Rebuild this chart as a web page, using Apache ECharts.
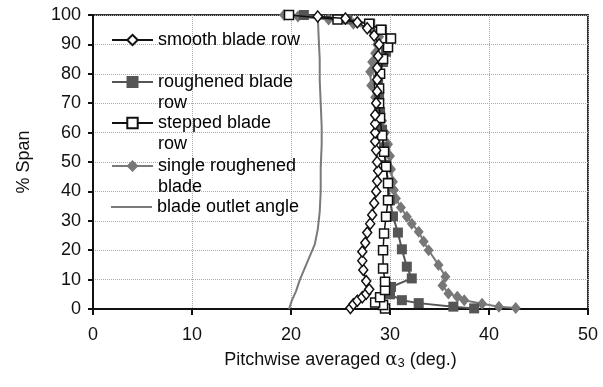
<!DOCTYPE html>
<html><head><meta charset="utf-8">
<script src="https://cdn.jsdelivr.net/npm/echarts@6/dist/echarts.min.js"></script>
<style>html,body{margin:0;padding:0;background:#fff}#c{width:603px;height:387px}</style>
</head><body><div id="c"></div>
<script>
const xTicks = [0, 10, 20, 30, 40, 50];
const yTicks = [0, 10, 20, 30, 40, 50, 60, 70, 80, 90, 100];

const smoothSpan  = [0.3,1.6,2.8,4.0,5.2,6.7,9.5,13.3,16.4,19.5,22.5,26,29,32,36,40,43.5,47,50,54,57,60,63,66,70,74,78,82,86,90,93,95.5,97.5,98.8,99.5];
const smoothAngle = [26.0,26.3,26.7,27.2,27.6,27.9,27.6,27.3,27.2,27.2,27.5,27.7,28.0,28.2,28.4,28.6,28.7,28.8,28.7,28.6,28.5,28.5,28.5,28.5,28.6,28.7,28.7,28.7,28.8,28.9,28.4,27.7,26.7,25.5,22.7];

const roughSpan  = [0.2,0.8,2.0,3.0,5.0,7.5,10.4,14.4,20.3,26,31.5,37,43,49,55,61,67,73,78,84,87.5,92,95,97,98.5,100];
const roughAngle = [38.5,36.4,32.9,31.2,30.0,30.1,32.2,31.7,31.2,30.8,30.3,30.0,29.8,29.6,29.4,29.2,29.0,28.9,28.8,29.3,29.6,30.0,29.2,28.0,25.7,21.3];

const stepSpan  = [0.2,1.4,2.2,4.0,6.5,9.3,13.8,20,25.7,31.4,37,42.8,48.4,53.5,59,65,70,75,80,85,89,92,95,97,98.5,100];
const stepAngle = [29.5,29.3,28.5,29.0,29.5,29.5,29.3,29.3,29.4,29.6,29.8,29.8,29.6,29.4,29.2,29.0,28.9,28.9,29.0,29.3,29.8,30.1,29.1,27.9,24.7,19.8];

const singleSpan  = [0.3,0.8,1.8,3.0,4.2,5.3,8,11,15,20,23,26.3,29,31.4,34.5,37.6,40.5,43.3,47.5,52,56,60,64,68,72,76,80.7,84,87,90,92.6,95,97,98.5,99.5,100];
const singleAngle = [42.7,41.0,39.3,37.5,36.8,35.9,35.3,35.6,34.9,33.9,33.4,32.9,32.2,31.7,31.1,30.6,30.4,30.3,30.1,30.0,29.8,29.5,29.2,28.9,28.5,28.1,28.0,28.2,28.5,28.7,28.9,28.1,26.3,23.8,20.7,19.3];

const outletSpan  = [0,3,6,10,14,18,22,27,33,40,48,56,62,70,78,85,92,100];
const outletAngle = [19.8,20.1,20.5,20.9,21.4,21.9,22.4,22.7,22.9,23.0,23.0,23.1,23.1,23.0,22.9,22.9,22.8,22.7];

const names = ['smooth blade row', 'roughened blade\nrow', 'stepped blade\nrow', 'single roughened\nblade', 'blade outlet angle'];

function zip(a, s) { return a.map((v, i) => [v, s[i]]); }

const FONT = 'Liberation Sans';
const LH = 21;
const chart = echarts.init(document.getElementById('c'), null, {renderer: 'canvas'});

function leg(name, symCenter, twoLine, ih, icon) {
  return {
    data: [icon ? {name: name, icon: icon} : name],
    left: 111, top: twoLine ? symCenter - 1.5 * LH : symCenter - LH / 2,
    orient: 'vertical', padding: 0,
    itemWidth: 41, itemHeight: ih, itemGap: 0, selectedMode: false,
    formatter: twoLine ? (n => '\n' + n) : (n => n),
    textStyle: {fontFamily: FONT, fontSize: 18, color: '#000', lineHeight: LH}
  };
}

chart.setOption({
  animation: false,
  textStyle: {fontFamily: FONT},
  grid: {left: 93, right: 15, top: 15, bottom: 78, show: true, borderColor: '#333', borderWidth: 2},
  legend: [
    leg(names[0], 40, false, 13),
    leg(names[1], 82, true, 15),
    leg(names[2], 123, true, 13),
    leg(names[3], 166, true, 15),
    leg(names[4], 207, false, 2, 'rect')
  ],
  xAxis: {
    type: 'value', min: xTicks[0], max: xTicks[xTicks.length - 1], interval: 10,
    axisLine: {lineStyle: {color: '#111', width: 2}},
    axisTick: {show: true, length: 6, lineStyle: {color: '#111', width: 2}},
    axisLabel: {fontSize: 18, color: '#111', margin: 17, fontFamily: FONT},
    splitLine: {show: true, lineStyle: {color: '#aaa', type: 'dotted', width: 1}},
    name: 'Pitchwise averaged {a|α}{s|3} (deg.)',
    nameLocation: 'middle', nameGap: 42,
    nameTextStyle: {fontSize: 18, color: '#111', fontFamily: FONT,
      rich: {a: {fontSize: 18, fontFamily: 'DejaVu Serif', color: '#111'},
             s: {fontSize: 13, color: '#111', verticalAlign: 'bottom', padding: [6, 0, 0, 0]}}}
  },
  yAxis: {
    type: 'value', min: yTicks[0], max: yTicks[yTicks.length - 1], interval: 10,
    axisLine: {show: true, lineStyle: {color: '#111', width: 2}},
    axisTick: {show: true, length: 5, lineStyle: {color: '#111', width: 2}},
    axisLabel: {fontSize: 18, color: '#111', margin: 12, fontFamily: FONT},
    splitLine: {show: true, lineStyle: {color: '#aaa', type: 'dotted', width: 1}},
    name: '% Span', nameLocation: 'middle', nameGap: 60,
    nameTextStyle: {fontSize: 18, color: '#111', fontFamily: FONT}
  },
  series: [
    {name: names[4], type: 'line', data: zip(outletAngle, outletSpan), symbol: 'none',
     lineStyle: {color: '#7a7a7a', width: 2}, itemStyle: {color: '#7a7a7a'}, z: 2},
    {name: names[3], type: 'line', data: zip(singleAngle, singleSpan), symbol: 'diamond', symbolSize: [10, 12],
     lineStyle: {color: '#7a7a7a', width: 2}, itemStyle: {color: '#777'}, z: 3},
    {name: names[1], type: 'line', data: zip(roughAngle, roughSpan), symbol: 'rect', symbolSize: 10,
     lineStyle: {color: '#555', width: 2}, itemStyle: {color: '#555'}, z: 4},
    {name: names[2], type: 'line', data: zip(stepAngle, stepSpan), symbol: 'rect', symbolSize: 9,
     lineStyle: {color: '#111', width: 1.5}, itemStyle: {color: '#fff', borderColor: '#111', borderWidth: 1.5}, z: 5},
    {name: names[0], type: 'line', data: zip(smoothAngle, smoothSpan), symbol: 'diamond', symbolSize: [9, 11],
     lineStyle: {color: '#111', width: 1.5}, itemStyle: {color: '#fff', borderColor: '#111', borderWidth: 1.5}, z: 6}
  ]
});
</script></body></html>
